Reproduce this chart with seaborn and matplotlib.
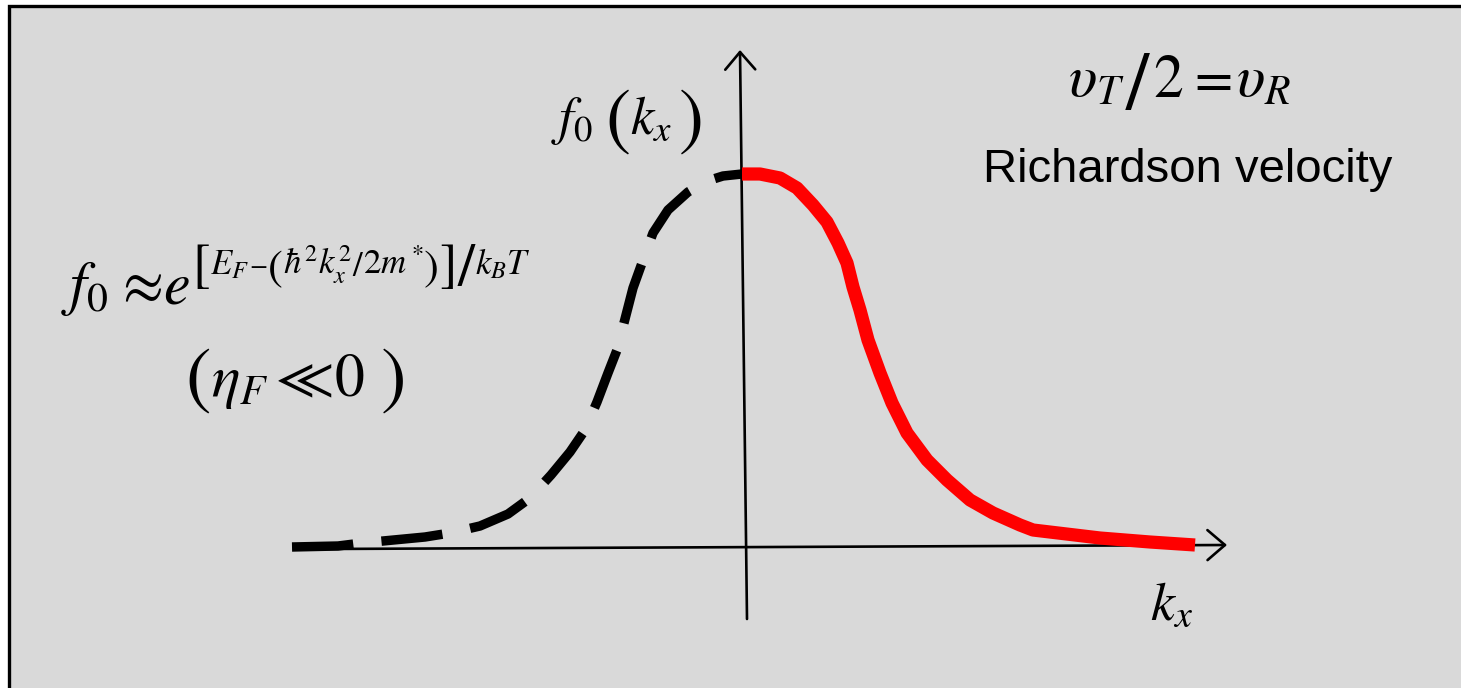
import matplotlib
matplotlib.use("Agg")
import matplotlib.pyplot as plt
from matplotlib.patches import Rectangle
import seaborn as sns
import pandas as pd

sns.set_theme(style="white")
plt.rcParams["mathtext.fontset"] = "stix"
plt.rcParams["font.family"] = ["Liberation Sans", "DejaVu Sans"]
plt.rcParams["text.color"] = "black"

# Schematic distribution f0(kx): negative-k branch (dashed) and positive-k branch (red)
k_neg = [-4.53, -4.07, -3.83, -3.20, -2.95, -2.65, -2.37, -2.15, -1.94, -1.75,
         -1.60, -1.48, -1.37, -1.28, -1.20, -1.12, -1.03, -0.92, -0.77, -0.57,
         -0.38, -0.22, -0.03]
f_neg = [0.01, 0.02, 0.05, 0.11, 0.15, 0.22, 0.34, 0.50, 0.73, 0.96,
         1.18, 1.46, 1.75, 1.98, 2.29, 2.60, 2.85, 3.15, 3.38, 3.56,
         3.67, 3.72, 3.74]
k_pos = [-0.03, 0.15, 0.35, 0.52, 0.68, 0.82, 0.93, 1.02, 1.08, 1.15,
         1.23, 1.35, 1.47, 1.62, 1.82, 2.02, 2.25, 2.48, 2.75, 2.88,
         3.55, 4.05, 4.50]
f_pos = [3.74, 3.74, 3.70, 3.60, 3.43, 3.26, 3.05, 2.85, 2.61, 2.38,
         2.08, 1.75, 1.45, 1.15, 0.88, 0.68, 0.48, 0.35, 0.23, 0.18,
         0.10, 0.06, 0.03]

neg = pd.DataFrame({"k": k_neg, "f": f_neg})
pos = pd.DataFrame({"k": k_pos, "f": f_pos})

W, H = 1461, 688
fig = plt.figure(figsize=(W / 100, H / 100), dpi=100, facecolor="white")
ax = fig.add_axes([0, 0, 1, 1])
ax.set_xlim(-7.45, 7.16)
ax.set_ylim(-1.40, 5.48)
ax.axis("off")

# panel background with frame
ax.add_patch(Rectangle((-7.36, -1.60), 15.0, 7.02, facecolor="#d9d9d9",
                       edgecolor="black", lw=2.4, zorder=0))

# coordinate axes with open arrow heads
arrow = dict(arrowstyle="->,head_length=0.42,head_width=0.36", lw=1.9,
             color="black", mutation_scale=30, shrinkA=0, shrinkB=0)
ax.annotate("", xy=(4.82, 0.03), xytext=(-4.23, -0.01), arrowprops=arrow, zorder=2)
ax.annotate("", xy=(-0.05, 4.98), xytext=(0.02, -0.71), arrowprops=arrow, zorder=2)

sns.lineplot(data=neg, x="k", y="f", ax=ax, color="black", linewidth=6.8,
             dashes=(6.5, 3.0), sort=False, estimator=None, zorder=3,
             dash_joinstyle="round", dash_capstyle="butt")
sns.lineplot(data=pos, x="k", y="f", ax=ax, color="#ff0000", linewidth=9.5,
             sort=False, estimator=None, zorder=4, solid_capstyle="butt",
             solid_joinstyle="round")
ax.set_xlabel("")
ax.set_ylabel("")

renderer = fig.canvas.get_renderer()


def row(pieces, y):
    """Lay out formula pieces left to right on baseline row y (pixels from top).

    Each piece is (text, size, x, dy); a piece starts at x or right after the
    previous piece, whichever is further right."""
    end = 0.0
    for s, size, x, dy in pieces:
        x = max(x, end)
        t = fig.text(x / W, 1 - (y + dy) / H, s, fontsize=size,
                     family="STIXGeneral", ha="left", va="baseline",
                     color="black")
        end = t.get_window_extent(renderer).x1 + 0.5


# f0(kx) axis label
row([(r"$f_0$", 38, 551, 0), ("(", 54, 605, 7),
     (r"$k_x$", 38, 628, 0), (")", 54, 679, 7)], 134)

# Richardson velocity
row([(r"$\upsilon_T$", 43, 1068, 0), ("/", 60, 1124, 12), ("2", 43, 1153, 0),
     ("=", 40, 1194, 0), (r"$\upsilon_R$", 43, 1236, 0)], 97)
fig.text(1188 / W, 1 - 182 / H, "Richardson velocity", fontsize=34,
         family="Liberation Sans", ha="center", va="baseline", color="black")

# Boltzmann approximation of the distribution
row([(r"$f_0$", 43, 61, 0), ("\u2248", 43, 122, 0), (r"$e$", 43, 158, 0)], 303)
row([("[", 38, 192, 7), (r"$E_F$", 25, 207, 0), ("\u2212", 19, 238, 0),
     ("(", 32, 248, 6), (r"$\hbar^2k_x^2$", 25, 268, 0), ("/", 25, 352, 2),
     (r"$2m^*$", 25, 360, 0), (")", 32, 420, 6), ("]", 38, 432, 7),
     ("/", 44, 445, 12), (r"$k_BT$", 25, 462, 0)], 274)

# non-degenerate condition
row([("(", 55, 185, 4), (r"$\eta_F$", 43, 205, 0), ("\u226a", 43, 276, 0),
     ("0", 43, 335, 0), (")", 55, 381, 4)], 396)

# kx axis label
row([(r"$k_x$", 39, 1150, 0)], 620)

fig.savefig("out.png", dpi=100, facecolor="white")
